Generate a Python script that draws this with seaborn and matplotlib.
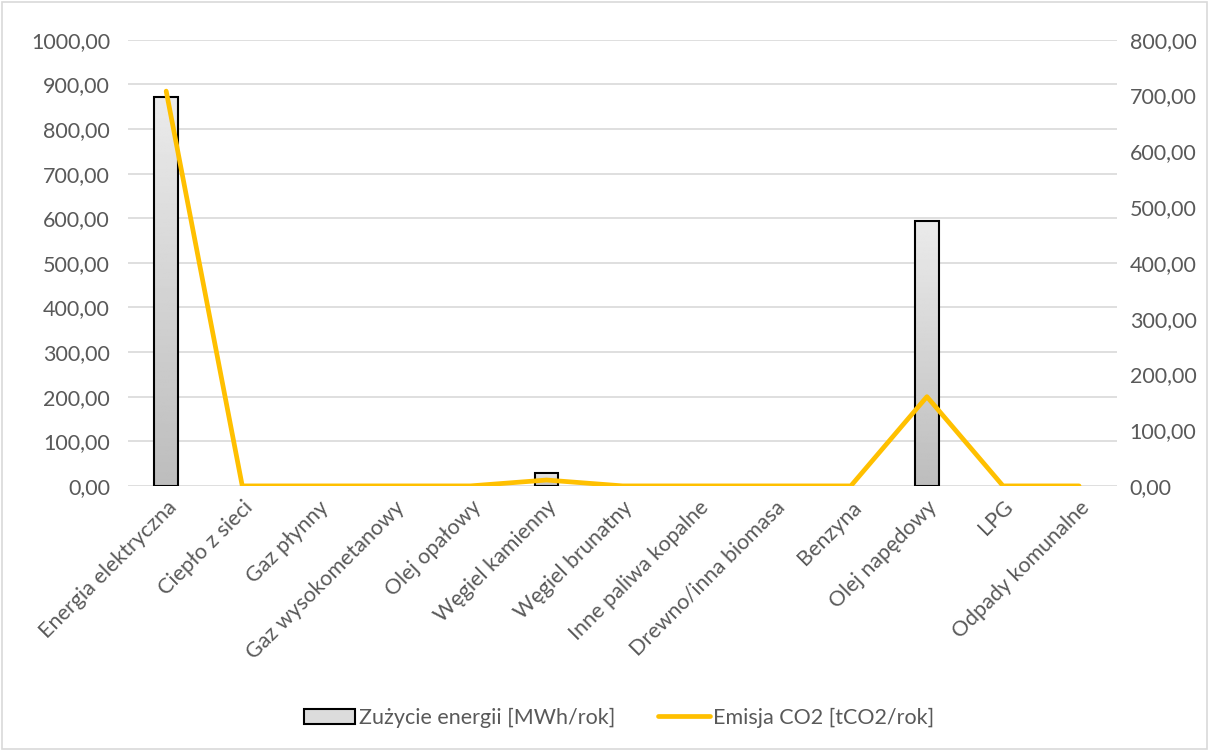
import numpy as np
import pandas as pd
import seaborn as sns
import matplotlib.pyplot as plt
from matplotlib.lines import Line2D
from matplotlib.patches import Patch
from matplotlib.ticker import FuncFormatter

# Data
categories = ["Energia elektryczna", "Ciepło z sieci", "Gaz płynny", "Gaz wysokometanowy",
              "Olej opałowy", "Węgiel kamienny", "Węgiel brunatny", "Inne paliwa kopalne",
              "Drewno/inna biomasa", "Benzyna", "Olej napędowy", "LPG", "Odpady komunalne"]
energy_mwh = [872.0, 0, 0, 0, 0, 29.0, 0, 0, 0, 0, 594.0, 0, 0]
co2_t = [708.0, 0, 0, 0, 0, 10.5, 0, 0, 0, 0, 160.0, 0, 0]
left_ticks = list(range(0, 1001, 100))
right_ticks = list(range(0, 801, 100))

df = pd.DataFrame({"kategoria": categories, "energia": energy_mwh, "co2": co2_t})

sns.set_theme(style="white")
plt.rcParams["font.family"] = ["Lato", "DejaVu Sans"]
text_col = "#595959"
fsize = 15.5

fig = plt.figure(figsize=(12.09, 7.51), dpi=100)
ax = fig.add_axes([0.106, 0.353, 0.818, 0.594])

sns.barplot(data=df, x="kategoria", y="energia", ax=ax, width=0.31,
            color="#d4d4d4", edgecolor="black", linewidth=1.5, zorder=3)

# vertical gradient inside each bar
grad = np.linspace(0.92, 0.74, 256).reshape(-1, 1)
for p in ax.patches:
    if p.get_height() <= 0:
        p.set_visible(False)
        continue
    x0, w, h = p.get_x(), p.get_width(), p.get_height()
    im = ax.imshow(grad, cmap="gray", vmin=0, vmax=1, aspect="auto",
                   extent=[x0, x0 + w, 0, h], zorder=3.5)
    im.set_clip_path(p)
    p.set_facecolor("none")
    p.set_zorder(4)

ax.set_ylim(0, 1000)
ax.set_yticks(left_ticks)
ax.set_xlim(-0.5, len(categories) - 0.5)
ax.grid(axis="y", color="#d9d9d9", linewidth=1.2, zorder=0)
ax.set_axisbelow(True)
fmt = FuncFormatter(lambda v, _: f"{v:.2f}".replace(".", ","))
ax.yaxis.set_major_formatter(fmt)
ax.set_xlabel("")
ax.set_ylabel("")
for s in ax.spines.values():
    s.set_visible(False)
ax.tick_params(axis="y", length=0, labelsize=fsize, colors=text_col, pad=13)
ax.tick_params(axis="x", length=0, labelsize=fsize, colors=text_col, pad=8)
ax.set_xticks(range(len(categories)))
ax.set_xticklabels(categories, rotation=45, ha="right", rotation_mode="anchor")

ax2 = ax.twinx()
sns.lineplot(data=df, x="kategoria", y="co2", ax=ax2, color="#FFC000",
             linewidth=3.4, sort=False, zorder=5)
ax2.set_ylim(0, 800)
ax2.set_yticks(right_ticks)
ax2.yaxis.set_major_formatter(fmt)
ax2.set_ylabel("")
ax2.set_xlabel("")
for s in ax2.spines.values():
    s.set_visible(False)
ax2.tick_params(axis="y", length=0, labelsize=fsize, colors=text_col, pad=9)

handles = [Patch(facecolor="#dcdcdc", edgecolor="black", linewidth=1.5),
           Line2D([0], [0], color="#FFC000", linewidth=3.4)]
fig.legend(handles, ["Zużycie energii [MWh/rok]", "Emisja CO2 [tCO2/rok]"],
           loc="center", bbox_to_anchor=(0.512, 0.044), ncol=2, frameon=False,
           fontsize=fsize, labelcolor=text_col, columnspacing=2.0,
           handlelength=2.4, handletextpad=0.15)

# chart-area border
fig.patches.append(plt.Rectangle((0.002, 0.002), 0.996, 0.996, transform=fig.transFigure,
                                 fill=False, edgecolor="#d9d9d9", linewidth=1.2))

fig.savefig("out.png", dpi=100)
